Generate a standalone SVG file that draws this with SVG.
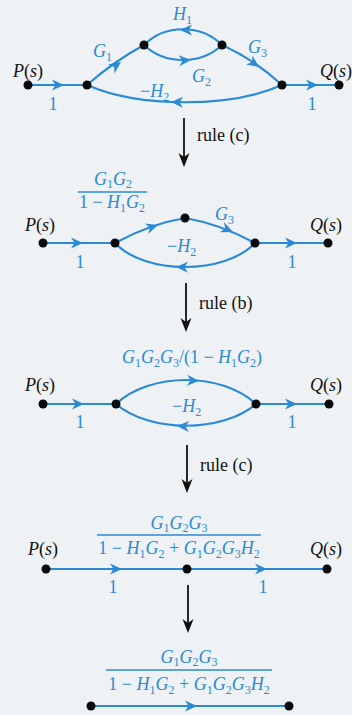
<svg xmlns="http://www.w3.org/2000/svg" xmlns:xlink="http://www.w3.org/1999/xlink" width="352" height="715" viewBox="0 0 352 715">
<style>
.bg { fill: #eef2f5; }
.e { fill: none; stroke: #2a8ad6; stroke-width: 2.2; stroke-linecap: round; }
.r { fill: none; stroke: #111; stroke-width: 1.8; }
.n { fill: #0a0a0a; }
.ah { fill: #2a8ad6; }
.bh { fill: #111; }
.t { font-family: "Liberation Serif", "Times New Roman", serif; font-size: 18px; }
.lb { fill: #2a8ad6; }
.bk { fill: #111; }
.rt { font-family: "Liberation Serif", "Times New Roman", serif; font-size: 18px; fill: #111; }
.i { font-style: italic; }
.s { font-size: 12px; font-style: normal; }
.fl { stroke: #2a8ad6; stroke-width: 1.5; }
</style>
<defs>
<path id="ah" d="M0,0 L-12,-5.5 L-8.5,0 L-12,5.5 Z"/>
<path id="bh" d="M0,0 L-5.5,-14 L0,-10 L5.5,-14 Z"/>
</defs>
<rect class="bg" x="0" y="0" width="352" height="715"/>

<g id="connectors">
  <!-- diagram 1 -->
  <path class="e" d="M28,85 L87,85"/>
  <path class="e" d="M87,85 Q113,62 144,45"/>
  <path class="e" d="M144,45 C165,24 201,24 222,45"/>
  <path class="e" d="M144,45 C165,65 201,65 222,45"/>
  <path class="e" d="M222,45 Q255,60 282,85"/>
  <path class="e" d="M282,85 C230,108 140,108 87,85"/>
  <path class="e" d="M282,85 L339,85"/>
  <use href="#ah" class="ah" transform="translate(64,85)"/>
  <use href="#ah" class="ah" transform="translate(121,62) rotate(-36)"/>
  <use href="#ah" class="ah" transform="translate(180,30) rotate(180)"/>
  <use href="#ah" class="ah" transform="translate(191,60) rotate(-4)"/>
  <use href="#ah" class="ah" transform="translate(259,67) rotate(36)"/>
  <use href="#ah" class="ah" transform="translate(171,102) rotate(181)"/>
  <use href="#ah" class="ah" transform="translate(318,85)"/>

  <!-- diagram 2 -->
  <path class="e" d="M43,243 L115,243"/>
  <path class="e" d="M115,243 Q150,224 185,218"/>
  <path class="e" d="M185,218 Q220,224 255,243"/>
  <path class="e" d="M255,243 C225,275 145,275 115,243"/>
  <path class="e" d="M255,243 L328,243"/>
  <use href="#ah" class="ah" transform="translate(83,243)"/>
  <use href="#ah" class="ah" transform="translate(158,225) rotate(-18)"/>
  <use href="#ah" class="ah" transform="translate(233,232) rotate(23)"/>
  <use href="#ah" class="ah" transform="translate(176,267) rotate(181)"/>
  <use href="#ah" class="ah" transform="translate(297,243)"/>

  <!-- diagram 3 -->
  <path class="e" d="M43,404 L116,404"/>
  <path class="e" d="M116,404 C150,372 222,372 256,404"/>
  <path class="e" d="M256,404 C222,433 150,433 116,404"/>
  <path class="e" d="M256,404 L329,404"/>
  <use href="#ah" class="ah" transform="translate(84,404)"/>
  <use href="#ah" class="ah" transform="translate(199,381) rotate(4)"/>
  <use href="#ah" class="ah" transform="translate(177,426) rotate(182)"/>
  <use href="#ah" class="ah" transform="translate(297,404)"/>

  <!-- diagram 4 -->
  <path class="e" d="M46,569 L327,569"/>
  <use href="#ah" class="ah" transform="translate(122,569)"/>
  <use href="#ah" class="ah" transform="translate(267,569)"/>

  <!-- diagram 5 -->
  <path class="e" d="M91,706 L289,706"/>
  <use href="#ah" class="ah" transform="translate(197,706)"/>

  <!-- rule arrows -->
  <path class="r" d="M184,118 L184,157"/>
  <use href="#bh" class="bh" transform="translate(184,167)"/>
  <path class="r" d="M186,283 L186,322"/>
  <use href="#bh" class="bh" transform="translate(186,332)"/>
  <path class="r" d="M187,445 L187,483"/>
  <use href="#bh" class="bh" transform="translate(187,493)"/>
  <path class="r" d="M188,585 L188,623"/>
  <use href="#bh" class="bh" transform="translate(188,633)"/>
</g>

<g id="rule-labels">
  <text class="rt" x="197" y="141">rule (c)</text>
  <text class="rt" x="199" y="309">rule (b)</text>
  <text class="rt" x="200" y="471">rule (c)</text>
</g>

<!-- Diagram 1 -->
<g id="d1-P"><circle class="n" cx="28" cy="85" r="4.5"/><text class="t bk" x="13" y="77"><tspan class="i">P</tspan>(<tspan class="i">s</tspan>)</text></g>
<g id="d1-A"><circle class="n" cx="87" cy="85" r="4.5"/></g>
<g id="d1-B"><circle class="n" cx="144" cy="45" r="4.5"/></g>
<g id="d1-C"><circle class="n" cx="222" cy="45" r="4.5"/></g>
<g id="d1-D"><circle class="n" cx="282" cy="85" r="4.5"/></g>
<g id="d1-Q"><circle class="n" cx="339" cy="85" r="4.5"/><text class="t bk" x="320" y="77"><tspan class="i">Q</tspan>(<tspan class="i">s</tspan>)</text></g>
<g id="d1-labels">
  <text class="t lb" x="53" y="110" text-anchor="middle">1</text>
  <text class="t lb" x="312" y="110" text-anchor="middle">1</text>
  <text class="t lb" x="93" y="57"><tspan class="i">G</tspan><tspan class="s" dy="4">1</tspan></text>
  <text class="t lb" x="173" y="20"><tspan class="i">H</tspan><tspan class="s" dy="4">1</tspan></text>
  <text class="t lb" x="248" y="53"><tspan class="i">G</tspan><tspan class="s" dy="4">3</tspan></text>
  <text class="t lb" x="192" y="82"><tspan class="i">G</tspan><tspan class="s" dy="4">2</tspan></text>
  <text class="t lb" x="140" y="97">−<tspan class="i">H</tspan><tspan class="s" dy="4">2</tspan></text>
</g>

<!-- Diagram 2 -->
<g id="d2-P"><circle class="n" cx="43" cy="243" r="4.5"/><text class="t bk" x="25" y="231"><tspan class="i">P</tspan>(<tspan class="i">s</tspan>)</text></g>
<g id="d2-A"><circle class="n" cx="115" cy="243" r="4.5"/></g>
<g id="d2-T"><circle class="n" cx="185" cy="218" r="4.5"/></g>
<g id="d2-D"><circle class="n" cx="255" cy="243" r="4.5"/></g>
<g id="d2-Q"><circle class="n" cx="328" cy="243" r="4.5"/><text class="t bk" x="310" y="231"><tspan class="i">Q</tspan>(<tspan class="i">s</tspan>)</text></g>
<g id="d2-labels">
  <text class="t lb" x="113" y="185" text-anchor="middle"><tspan class="i">G</tspan><tspan class="s" dy="3">1</tspan><tspan class="i" dy="-3">G</tspan><tspan class="s" dy="3">2</tspan></text>
  <line class="fl" x1="78" y1="192" x2="147" y2="192"/>
  <text class="t lb" x="112" y="208" text-anchor="middle">1 − <tspan class="i">H</tspan><tspan class="s" dy="4">1</tspan><tspan class="i" dy="-4">G</tspan><tspan class="s" dy="4">2</tspan></text>
  <text class="t lb" x="215" y="220"><tspan class="i">G</tspan><tspan class="s" dy="4">3</tspan></text>
  <text class="t lb" x="167" y="252">−<tspan class="i">H</tspan><tspan class="s" dy="4">2</tspan></text>
  <text class="t lb" x="80" y="268" text-anchor="middle">1</text>
  <text class="t lb" x="292" y="268" text-anchor="middle">1</text>
</g>

<!-- Diagram 3 -->
<g id="d3-P"><circle class="n" cx="43" cy="404" r="4.5"/><text class="t bk" x="25" y="391"><tspan class="i">P</tspan>(<tspan class="i">s</tspan>)</text></g>
<g id="d3-A"><circle class="n" cx="116" cy="404" r="4.5"/></g>
<g id="d3-D"><circle class="n" cx="256" cy="404" r="4.5"/></g>
<g id="d3-Q"><circle class="n" cx="329" cy="404" r="4.5"/><text class="t bk" x="310" y="391"><tspan class="i">Q</tspan>(<tspan class="i">s</tspan>)</text></g>
<g id="d3-labels">
  <text class="t lb" x="192" y="363" text-anchor="middle"><tspan class="i">G</tspan><tspan class="s" dy="4">1</tspan><tspan class="i" dy="-4">G</tspan><tspan class="s" dy="4">2</tspan><tspan class="i" dy="-4">G</tspan><tspan class="s" dy="4">3</tspan><tspan dy="-4">/(1 − </tspan><tspan class="i">H</tspan><tspan class="s" dy="4">1</tspan><tspan class="i" dy="-4">G</tspan><tspan class="s" dy="4">2</tspan><tspan dy="-4">)</tspan></text>
  <text class="t lb" x="172" y="412">−<tspan class="i">H</tspan><tspan class="s" dy="4">2</tspan></text>
  <text class="t lb" x="80" y="428" text-anchor="middle">1</text>
  <text class="t lb" x="292" y="428" text-anchor="middle">1</text>
</g>

<!-- Diagram 4 -->
<g id="d4-P"><circle class="n" cx="46" cy="569" r="4.5"/><text class="t bk" x="28" y="555"><tspan class="i">P</tspan>(<tspan class="i">s</tspan>)</text></g>
<g id="d4-M"><circle class="n" cx="187" cy="569" r="4.5"/></g>
<g id="d4-Q"><circle class="n" cx="327" cy="569" r="4.5"/><text class="t bk" x="310" y="555"><tspan class="i">Q</tspan>(<tspan class="i">s</tspan>)</text></g>
<g id="d4-labels">
  <text class="t lb" x="179" y="529" text-anchor="middle"><tspan class="i">G</tspan><tspan class="s" dy="3">1</tspan><tspan class="i" dy="-3">G</tspan><tspan class="s" dy="3">2</tspan><tspan class="i" dy="-3">G</tspan><tspan class="s" dy="3">3</tspan></text>
  <line class="fl" x1="97" y1="535" x2="261" y2="535"/>
  <text class="t lb" x="179" y="554" text-anchor="middle">1 − <tspan class="i">H</tspan><tspan class="s" dy="4">1</tspan><tspan class="i" dy="-4">G</tspan><tspan class="s" dy="4">2</tspan><tspan dy="-4"> + </tspan><tspan class="i">G</tspan><tspan class="s" dy="4">1</tspan><tspan class="i" dy="-4">G</tspan><tspan class="s" dy="4">2</tspan><tspan class="i" dy="-4">G</tspan><tspan class="s" dy="4">3</tspan><tspan class="i" dy="-4">H</tspan><tspan class="s" dy="4">2</tspan></text>
  <text class="t lb" x="113" y="593" text-anchor="middle">1</text>
  <text class="t lb" x="263" y="593" text-anchor="middle">1</text>
</g>

<!-- Diagram 5 -->
<g id="d5-P"><circle class="n" cx="91" cy="706" r="4.5"/></g>
<g id="d5-Q"><circle class="n" cx="289" cy="706" r="4.5"/></g>
<g id="d5-labels">
  <text class="t lb" x="189" y="663" text-anchor="middle"><tspan class="i">G</tspan><tspan class="s" dy="3">1</tspan><tspan class="i" dy="-3">G</tspan><tspan class="s" dy="3">2</tspan><tspan class="i" dy="-3">G</tspan><tspan class="s" dy="3">3</tspan></text>
  <line class="fl" x1="106" y1="670" x2="272" y2="670"/>
  <text class="t lb" x="189" y="690" text-anchor="middle">1 − <tspan class="i">H</tspan><tspan class="s" dy="4">1</tspan><tspan class="i" dy="-4">G</tspan><tspan class="s" dy="4">2</tspan><tspan dy="-4"> + </tspan><tspan class="i">G</tspan><tspan class="s" dy="4">1</tspan><tspan class="i" dy="-4">G</tspan><tspan class="s" dy="4">2</tspan><tspan class="i" dy="-4">G</tspan><tspan class="s" dy="4">3</tspan><tspan class="i" dy="-4">H</tspan><tspan class="s" dy="4">2</tspan></text>
</g>
</svg>
